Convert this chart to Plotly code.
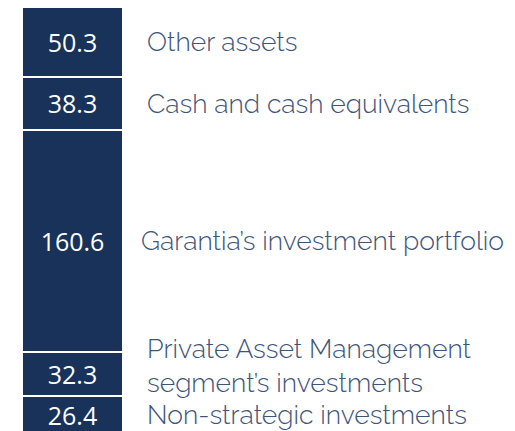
import plotly.graph_objects as go

categories = [
    "Non-strategic investments",
    "Private Asset Management<br>segment’s investments",
    "Garantia’s investment portfolio",
    "Cash and cash equivalents",
    "Other assets",
]
values = [26.4, 32.3, 160.6, 38.3, 50.3]
value_labels = ["26.4", "32.3", "160.6", "38.3", "50.3"]

BAR = "#18325a"
TXT = "#3d5479"
FONT = "Raleway, Lato, 'Open Sans', sans-serif"
NUMFONT = "'Open Sans', Lato, sans-serif"

W, H = 507, 423  # page body has an 8px margin

fig = go.Figure()
for cat, v, lab in zip(categories, values, value_labels):
    fig.add_trace(go.Bar(
        x=[0], y=[v], width=[1], name=cat,
        marker=dict(color=BAR, line=dict(color="white", width=2)),
        text=[lab], textposition="inside", insidetextanchor="middle",
        textfont=dict(color="white", size=25, family=NUMFONT, weight=500),
        constraintext="none", showlegend=False, hoverinfo="skip",
    ))

cum = 0
label_x = [137, 137, 131, 137, 137]
yshifts = [0, 8, 0, 0, 0]
for cat, v, lx, ys in zip(categories, values, label_x, yshifts):
    mid = cum + v / 2
    cum += v
    fig.add_annotation(
        x=lx / W, xref="paper", y=mid, yref="y",
        text=cat, showarrow=False, xanchor="left", yanchor="middle",
        align="left", yshift=ys,
        font=dict(family=FONT, size=26.5, color=TXT, weight=300),
    )

x0 = -0.5 - 14 / 101
fig.update_layout(
    width=W, height=H,
    margin=dict(l=0, r=0, t=0, b=0),
    barmode="stack",
    plot_bgcolor="white", paper_bgcolor="white",
    xaxis=dict(range=[x0, x0 + W / 101], visible=False),
    yaxis=dict(range=[1.3, 307.2], visible=False),
)

fig.write_html("out.html")
